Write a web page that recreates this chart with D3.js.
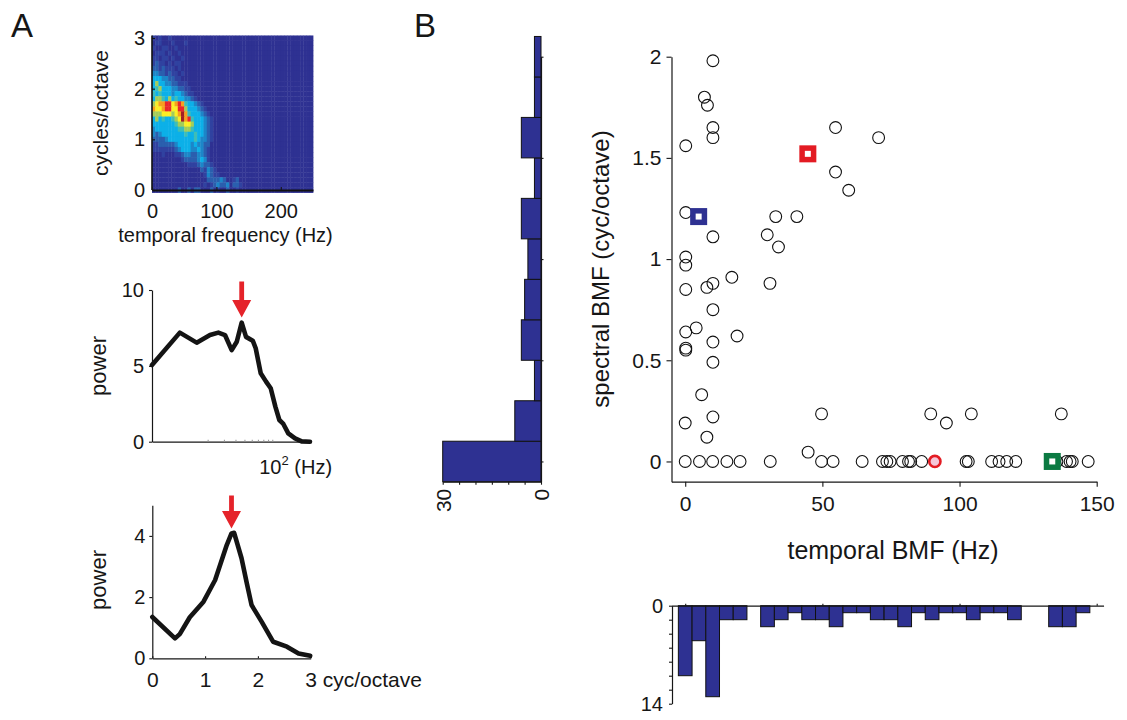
<!DOCTYPE html>
<html>
<head>
<meta charset="utf-8">
<title>Temporal and spectral modulation tuning</title>
<script src="https://cdn.jsdelivr.net/npm/d3@7/dist/d3.min.js"></script>
<style>
  html, body { margin: 0; padding: 0; background: #fff; }
  svg { display: block; }
</style>
</head>
<body>
<svg id="fig" width="1127" height="720"></svg>
<script>
// ---------------- data ----------------

// Modulation power spectrum: one string per row, from 3.0 down to 0.0 cyc/octave
// (0.1 cyc/octave per row); one character per 5 Hz column starting at 0 Hz.
// Characters are colour levels, 0 = floor ... a = maximum.
const heatRows = [
  "10100100",
  "01100010001",
  "10011001",
  "011101001",
  "1101101001",
  "1211010110",
  "2212111010",
  "3322121101",
  "4443322110",
  "46443322111",
  "456444332211",
  "5454443443211",
  "46654645443321",
  "6788997898544321",
  "87789977996444321",
  "666777678a85444321",
  "464544567a895444321",
  "4444444566776444321",
  "3444444455665444321",
  "3234444444544544321",
  "2222344444444543321",
  "112222234444343322",
  "111111123444334321",
  "000100011233223321",
  "000000000122223431",
  "0000000000011123221",
  "00000000000000021321",
  "000000000000000013211",
  "000000000000000002222320012",
  "0000000000000000101232230221",
  "000000002002022000201002001"
];
const heatColumns = 50;
const heatXTicks = [0, 100, 200];
const heatYTicks = [0, 1, 2, 3];

// Temporal modulation power (log frequency axis)
const temporalHz    = [5, 10, 15.2, 21.2, 26.1, 30.8, 36.4, 41.3, 46.7, 52, 61.5, 66.2, 75, 85.7, 96.2, 108, 119.3, 131.8, 149, 176.5, 208, 256];
const temporalPower = [5.05, 7.19, 6.53, 7.03, 7.19, 7.03, 6.04, 6.59, 7.85, 6.91, 6.66, 6.16, 4.51, 3.96, 3.52, 2.31, 1.43, 1.17, 0.55, 0.22, 0.02, 0];
const temporalPeak  = [46.7, 7.85];
const powerTicksTemporal = [0, 5, 10];
const temporalMinorTicks = [20, 30, 40, 50, 60, 70, 80, 90, 100];

// Spectral modulation power
const spectralCyc   = [0, 0.43, 0.52, 0.71, 0.97, 1.19, 1.41, 1.5, 1.55, 1.69, 1.79, 1.88, 2.07, 2.29, 2.55, 2.77, 2.99];
const spectralPower = [1.35, 0.65, 0.79, 1.34, 1.85, 2.56, 3.7, 4.08, 4.1, 3.27, 2.45, 1.74, 1.2, 0.54, 0.38, 0.16, 0.08];
const spectralPeak  = [1.5, 4.08];
const powerTicksSpectral = [0, 2, 4];
const cycTicks = [0, 1, 2, 3];

// Best modulation frequencies of the population (temporal Hz, spectral cyc/octave)
const bmfTemporal = [
  10.1, 7.0, 8.1, 10.1, 10.1, 0.2, 54.8, 70.5, 54.8, 59.6,
  0.2, 33.0, 40.7, 29.9, 34.0, 10.1, 0.2, 0.2, 0.2, 7.9,
  10.1, 17.0, 30.9, 10.1, 0.2, 4.0, 0.2, 0.2, 10.1, 18.9,
  10.1, 6.0, 10.1, 0, 7.9, 49.7, 44.8, 89.5, 95.2, 104.3, 137.1,
  0, 5.2, 10.0, 15.2, 20.0, 31.0, 49.7, 53.9, 64.5, 71.9,
  73.5, 74.7, 79.2, 81.4, 82.2, 86.2, 102.4, 103.2, 111.7, 114.4,
  117.2, 120.5, 135.5, 139.0, 140.3, 141.1, 146.9
];
const bmfSpectral = [
  1.98, 1.80, 1.76, 1.65, 1.60, 1.56, 1.65, 1.60, 1.43, 1.34,
  1.23, 1.21, 1.21, 1.12, 1.06, 1.11, 1.01, 0.97, 0.85, 0.86,
  0.88, 0.91, 0.88, 0.75, 0.64, 0.66, 0.56, 0.55, 0.59, 0.62,
  0.49, 0.33, 0.22, 0.19, 0.12, 0.235, 0.046, 0.235, 0.19, 0.235, 0.235,
  0, 0, 0, 0, 0, 0, 0, 0, 0, 0,
  0, 0, 0, 0, 0, 0, 0, 0, 0, 0,
  0, 0, 0, 0, 0, 0, 0
];
// Highlighted example neurons
const markTemporal = [4.9, 44.7, 91.0, 133.8];
const markSpectral = [1.21, 1.52, 0, 0];
const markKind     = ["blueSquare", "redSquare", "pinkCircle", "greenSquare"];
const bmfXTicks = [0, 50, 100, 150];
const bmfYTicks = [0, 0.5, 1, 1.5, 2];

// Marginal histograms
const spectralBins   = [0, 0.2, 0.4, 0.6, 0.8, 1.0, 1.2, 1.4, 1.6, 1.8, 2.0];
const spectralCounts = [30, 8, 2, 6, 5, 4, 6, 2, 6, 2, 2];
const spectralCountTicks = [0, 5, 10, 15, 20, 25, 30];
const temporalBins   = [0, 5, 10, 15, 20, 25, 30, 35, 40, 45, 50, 55, 60, 65, 70,
                        75, 80, 85, 90, 95, 100, 105, 110, 115, 120, 125, 130, 135, 140, 145];
const temporalCounts = [10, 5, 13, 2, 2, 0, 3, 2, 1, 2, 2, 3, 1, 1, 2,
                        2, 3, 1, 2, 1, 1, 2, 1, 1, 2, 0, 0, 3, 3, 1];
const temporalCountTicks = [0, 2, 4, 6, 8, 10, 12, 14];

// ---------------- drawing ----------------
const FONT = '"Liberation Sans", Arial, Helvetica, sans-serif';
const INK = "#161616";
const BAR = "#2e3192";
const heatPalette = ["#2e3192", "#3042a0", "#2a5fae", "#1c86c8", "#0cb0e8", "#3fbdb6",
                     "#a3cc5a", "#fbee23", "#f6a01f", "#e8262b", "#a31e23"];

const svg = d3.select("#fig");

function axis(g, gen, size) {
  g.call(gen);
  g.attr("font-family", FONT).attr("font-size", size);
  g.select(".domain").attr("stroke", INK).attr("stroke-width", 1.2);
  g.selectAll(".tick line").attr("stroke", INK).attr("stroke-width", 1.1);
  g.selectAll(".tick text").attr("fill", INK);
  return g;
}
function label(x, y, text, size, opts = {}) {
  const t = svg.append("text")
    .attr("font-family", FONT).attr("font-size", size).attr("fill", INK)
    .attr("text-anchor", opts.anchor || "middle")
    .attr("transform", opts.rotate ? `translate(${x},${y}) rotate(-90)` : `translate(${x},${y})`)
    .text(text);
  return t;
}
function arrow(x, yTip, len) {
  const hw = 9.5, sw = 2.4, hh = 17.5;
  const p = d3.path();
  p.moveTo(x - sw, yTip - len); p.lineTo(x + sw, yTip - len); p.lineTo(x + sw, yTip - hh);
  p.lineTo(x + hw, yTip - hh); p.lineTo(x, yTip); p.lineTo(x - hw, yTip - hh);
  p.lineTo(x - sw, yTip - hh); p.closePath();
  svg.append("path").attr("d", p.toString()).attr("fill", "#e5232a");
}

// Panel letters
label(11, 37, "A", 33, { anchor: "start" });
label(414, 37, "B", 33, { anchor: "start" });

// ---- A, top: modulation spectrum ----
const xHM = d3.scaleLinear().domain([0, 250]).range([152, 313]);
const yHM = d3.scaleLinear().domain([0, 3]).range([190, 38]);
const heatCells = [];
heatRows.forEach((row, r) => {
  row.padEnd(heatColumns, "0").split("").forEach((ch, c) => {
    heatCells.push({ hz: c * 5, cyc: 3 - r * 0.1, level: parseInt(ch, 16) });
  });
});
svg.append("g").selectAll("rect").data(heatCells).join("rect")
  .attr("x", d => xHM(d.hz))
  .attr("width", d => xHM(d.hz + 5) - xHM(d.hz) + 0.4)
  .attr("y", d => yHM(d.cyc + 0.05))
  .attr("height", d => yHM(d.cyc - 0.05) - yHM(d.cyc + 0.05) + 0.4)
  .attr("fill", d => heatPalette[d.level]);

const hmY = axis(svg.append("g").attr("transform", `translate(${xHM(0)},0)`),
  d3.axisLeft(yHM).tickValues(heatYTicks).tickSize(-3).tickSizeOuter(0).tickPadding(7).tickFormat(d3.format("d")), 20);
hmY.select(".domain").remove();
svg.append("line").attr("x1", xHM(0)).attr("x2", xHM(0)).attr("y1", yHM(3.05)).attr("y2", yHM(0))
  .attr("stroke", "#111").attr("stroke-width", 1.6);
const hmX = axis(svg.append("g").attr("transform", `translate(0,${yHM(0)})`),
  d3.axisBottom(xHM).tickValues(heatXTicks).tickSize(-3).tickSizeOuter(0).tickPadding(14).tickFormat(d3.format("d")), 20);
hmX.select(".domain").attr("stroke", "#111").attr("stroke-width", 2);
label(108, 113, "cycles/octave", 21, { rotate: true });
label(225.5, 242, "temporal frequency (Hz)", 20);

// ---- A, middle: temporal modulation power ----
const xP1 = d3.scaleLog().domain([5, 256]).range([152, 310]);
const yP1 = d3.scaleLinear().domain([0, 10]).range([441.7, 290]);
axis(svg.append("g").attr("transform", `translate(${xP1(5)},0)`),
  d3.axisLeft(yP1).tickValues(powerTicksTemporal).tickSize(3).tickSizeOuter(0).tickPadding(5).tickFormat(d3.format("d")), 20);
const p1x = axis(svg.append("g").attr("transform", `translate(0,${yP1(0)})`),
  d3.axisBottom(xP1).tickValues(temporalMinorTicks).tickSize(-2).tickSizeOuter(0).tickFormat(""), 20);
p1x.selectAll(".tick line").attr("stroke", "#9a9a9a");
const tlab = svg.append("text").attr("font-family", FONT).attr("font-size", 20).attr("fill", INK)
  .attr("x", xP1(100) - 13).attr("y", 474);
tlab.append("tspan").text("10");
tlab.append("tspan").attr("font-size", 13).attr("dy", -9).text("2");
tlab.append("tspan").attr("dy", 9).text(" (Hz)");
svg.append("path")
  .datum(temporalHz.map((h, i) => [h, temporalPower[i]]))
  .attr("fill", "none").attr("stroke", "#141414").attr("stroke-width", 4.6)
  .attr("stroke-linejoin", "round").attr("stroke-linecap", "round")
  .attr("d", d3.line().x(d => xP1(d[0])).y(d => yP1(d[1])));
arrow(xP1(temporalPeak[0]), yP1(temporalPeak[1]) - 5, 36);
label(106, 366, "power", 22, { rotate: true });

// ---- A, bottom: spectral modulation power ----
const xP2 = d3.scaleLinear().domain([0, 3]).range([152.3, 310.7]);
const yP2 = d3.scaleLinear().domain([0, 5]).range([658.3, 505.3]);
axis(svg.append("g").attr("transform", `translate(${xP2(0)},0)`),
  d3.axisLeft(yP2).tickValues(powerTicksSpectral).tickSize(3).tickSizeOuter(0).tickPadding(4).tickFormat(d3.format("d")), 20);
const p2x = axis(svg.append("g").attr("transform", `translate(0,${yP2(0)})`),
  d3.axisBottom(xP2).tickValues(cycTicks).tickSize(-2).tickSizeOuter(0).tickPadding(14).tickFormat(d3.format("d")), 21);
p2x.selectAll(".tick text").filter(d => d === 3)
  .attr("text-anchor", "start").attr("x", -6).text("3 cyc/octave");
svg.append("path")
  .datum(spectralCyc.map((c, i) => [c, spectralPower[i]]))
  .attr("fill", "none").attr("stroke", "#141414").attr("stroke-width", 4.6)
  .attr("stroke-linejoin", "round").attr("stroke-linecap", "round")
  .attr("d", d3.line().x(d => xP2(d[0])).y(d => yP2(d[1])));
arrow(xP2(spectralPeak[0]), yP2(spectralPeak[1]) - 5, 33);
label(106, 580, "power", 22, { rotate: true });

// ---- B: scatter of best modulation frequencies ----
const xS = d3.scaleLinear().domain([-5, 150]).range([671.5, 1096.7]);
const yS = d3.scaleLinear().domain([-0.1, 2]).range([481.7, 56.7]);
axis(svg.append("g").attr("transform", `translate(${xS(-5)},0)`),
  d3.axisLeft(yS).tickValues(bmfYTicks).tickSize(5).tickSizeOuter(0).tickPadding(5).tickFormat(d3.format("~g")), 21);
axis(svg.append("g").attr("transform", `translate(0,${yS(-0.1)})`),
  d3.axisBottom(xS).tickValues(bmfXTicks).tickSize(5).tickSizeOuter(0).tickPadding(9).tickFormat(d3.format("d")), 21);
label(609, 269, "spectral BMF (cyc/octave)", 24, { rotate: true });
label(893, 559, "temporal BMF (Hz)", 25);

svg.append("g").selectAll("circle")
  .data(bmfTemporal.map((t, i) => [t, bmfSpectral[i]]))
  .join("circle")
  .attr("cx", d => xS(d[0])).attr("cy", d => yS(d[1])).attr("r", 5.9)
  .attr("fill", "none").attr("stroke", "#111").attr("stroke-width", 1.1);

const markStyle = {
  blueSquare:  { stroke: "#2e3192" },
  redSquare:   { stroke: "#e31b23" },
  greenSquare: { stroke: "#0b7a42" }
};
markKind.forEach((k, i) => {
  const cx = xS(markTemporal[i]), cy = yS(markSpectral[i]);
  if (k === "pinkCircle") {
    svg.append("circle").attr("cx", cx).attr("cy", cy).attr("r", 5.6)
      .attr("fill", "#f5c6d8").attr("stroke", "#e31b23").attr("stroke-width", 2.6);
  } else {
    const s = 11.5;
    svg.append("rect").attr("x", cx - s / 2).attr("y", cy - s / 2).attr("width", s).attr("height", s)
      .attr("fill", "#fff").attr("stroke", markStyle[k].stroke).attr("stroke-width", 5.5);
  }
});

// ---- B: spectral BMF histogram (left) ----
const xH = d3.scaleLinear().domain([0, 30]).range([541, 442.7]);
svg.append("g").selectAll("rect")
  .data(spectralBins.map((b, i) => [b, spectralCounts[i]]).filter(d => d[1] > 0))
  .join("rect")
  .attr("x", d => xH(d[1])).attr("width", d => xH(0) - xH(d[1]))
  .attr("y", d => yS(d[0] + 0.1)).attr("height", d => yS(d[0] - 0.1) - yS(d[0] + 0.1))
  .attr("fill", BAR).attr("stroke", "#111").attr("stroke-width", 1);
axis(svg.append("g").attr("transform", `translate(${xH(0)},0)`),
  d3.axisRight(yS).tickValues(bmfYTicks).tickSize(2.5).tickSizeOuter(0).tickFormat(""), 20);
const hb = axis(svg.append("g").attr("transform", `translate(0,${yS(-0.1)})`),
  d3.axisBottom(xH).tickValues(spectralCountTicks).tickSize(3).tickSizeOuter(0)
    .tickFormat(d => (d === 0 || d === 30) ? d : ""), 21);
hb.selectAll(".tick text")
  .attr("transform", "rotate(-90)").attr("x", -7).attr("y", 0).attr("dy", "0.35em")
  .attr("text-anchor", "end");

// ---- B: temporal BMF histogram (bottom, pointing down) ----
const yB = d3.scaleLinear().domain([0, 14]).range([605.7, 703.7]);
svg.append("g").selectAll("rect")
  .data(temporalBins.map((b, i) => [b, temporalCounts[i]]).filter(d => d[1] > 0))
  .join("rect")
  .attr("x", d => xS(d[0] - 2.5)).attr("width", d => xS(d[0] + 2.5) - xS(d[0] - 2.5))
  .attr("y", yB(0)).attr("height", d => yB(d[1]) - yB(0))
  .attr("fill", BAR).attr("stroke", "#111").attr("stroke-width", 1);
const xTop = xS.copy().domain([-5, 152.5]).range([xS(-5), xS(152.5)]);
axis(svg.append("g").attr("transform", `translate(0,${yB(0)})`),
  d3.axisTop(xTop).tickValues(bmfXTicks).tickSize(2).tickSizeOuter(0).tickFormat(""), 20);
axis(svg.append("g").attr("transform", `translate(672,0)`),
  d3.axisLeft(yB).tickValues(temporalCountTicks).tickSize(3).tickSizeOuter(0).tickPadding(6)
    .tickFormat(d => (d === 0 || d === 14) ? d : ""), 20);
</script>
</body>
</html>
